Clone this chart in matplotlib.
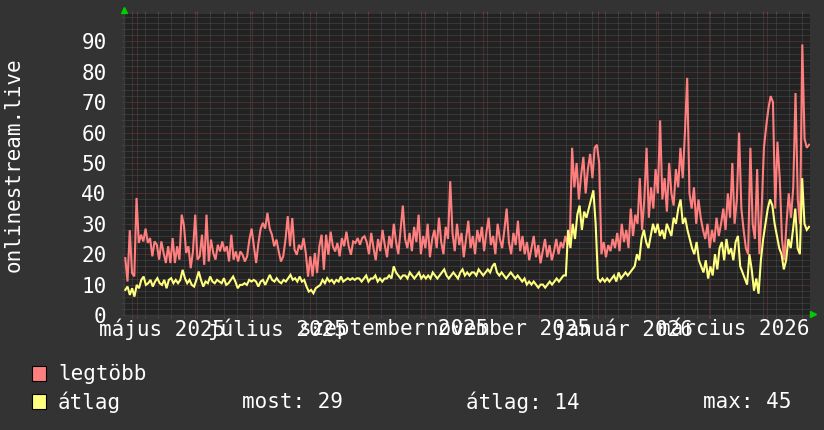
import numpy as np
import pandas as pd
import matplotlib
matplotlib.use('Agg')
import matplotlib.pyplot as plt
import matplotlib.dates as mdates
from matplotlib.patches import Rectangle
from matplotlib.ticker import MultipleLocator

# napi adatok (leolvasva), egyenletes lépéssel a teljes időszakra
legtobb = [18.7, 11.0, 27.9, 13.8, 12.7, 38.5, 23.7, 26.4, 24.2, 28.4,
           23.7, 25.3, 19.3, 24.2, 23.1, 18.2, 24.2, 20.4, 17.1, 22.6,
           17.1, 25.3, 17.1, 22.6, 18.2, 33.0, 29.5, 20.4, 22.6, 15.4,
           20.9, 33.0, 18.2, 19.3, 26.4, 16.5, 33.0, 17.6, 24.8, 20.4,
           18.2, 23.1, 20.9, 24.2, 20.9, 22.6, 17.6, 26.4, 18.2, 20.9,
           17.6, 20.9, 19.8, 17.6, 19.3, 24.8, 28.4, 22.6, 17.1, 23.7,
           28.4, 30.3, 28.4, 33.6, 28.4, 26.4, 22.6, 24.8, 20.9, 17.6,
           19.3, 24.8, 32.5, 22.6, 31.9, 21.5, 19.8, 23.1, 21.5, 25.3,
           20.4, 12.6, 19.3, 12.7, 20.4, 13.8, 22.6, 26.4, 14.9, 26.4,
           19.8, 27.4, 22.6, 20.9, 23.7, 19.3, 25.3, 22.6, 27.4, 22.6,
           19.8, 24.2, 23.7, 25.3, 23.1, 25.3, 25.9,
           24, 20, 27, 22, 18, 25, 21, 28, 23, 19,
           26, 22, 30, 24, 20, 28, 36, 25, 22, 27,
           21, 29, 24, 33, 20, 26, 22, 30, 19, 25,
           28, 22, 32, 24, 20, 29, 25, 44, 27, 21,
           30, 23, 27, 19, 25, 31, 22, 26, 20, 28,
           24, 29, 21, 27, 32, 23, 26, 20, 30, 25,
           22, 28, 35, 24, 20, 27, 23, 31, 21, 26,
           20, 24, 18, 22, 26, 19, 23, 17, 21, 25,
           19, 23, 18, 21, 25, 20, 24, 22, 26, 23,
           25, 55, 42, 50, 38, 46, 52, 40, 48, 53,
           45, 55, 56, 50, 20, 24, 19, 23, 21, 25,
           22, 27, 21, 30, 24, 28, 22, 35, 26, 33,
           30, 45, 28, 38, 55, 32, 42, 35, 48, 40,
           64, 38, 45, 34, 50, 40, 36, 48, 42, 55,
           45, 60, 78, 40, 35, 42, 30, 38, 32, 28,
           25, 30, 22, 28, 24, 32, 26, 30, 35, 28,
           40, 32, 50, 30, 38, 60, 35, 28, 22, 20,
           55, 30, 25, 48, 20, 35, 55, 62, 68, 72,
           70, 35, 57, 45, 25, 18, 30, 40, 32, 42,
           73, 38, 30, 89, 58, 55, 56]

atlag = [8.25, 9.35, 6.6, 8.8, 6.05, 9.9, 8.8, 11.55, 12.65, 9.9,
         10.45, 11.55, 9.35, 11.0, 12.1, 10.45, 9.9, 11.55, 8.8, 11.55,
         12.1, 10.45, 11.55, 10.45, 11.55, 14.85, 12.1, 10.45, 11.55, 9.9,
         9.35, 11.55, 14.3, 11.55, 9.35, 11.0, 10.45, 12.65, 11.0, 10.45,
         11.55, 11.0, 10.45, 12.1, 9.9, 10.45, 11.55, 12.65, 11.0, 8.8,
         9.9, 9.9, 10.45, 9.9, 11.55, 11.0, 11.55, 11.0, 9.35, 11.0,
         11.55, 9.9, 11.55, 13.2, 11.55, 11.0, 12.1, 11.0, 10.45, 11.55,
         11.0, 12.1, 13.2, 11.55, 12.1, 11.0, 12.65, 11.0, 11.55, 9.35,
         7.7, 8.25, 7.15, 8.8, 9.35, 9.9, 11.55, 10.45, 12.1, 11.0,
         11.55, 10.45, 11.55, 11.0, 12.65, 11.0, 11.55, 12.1, 11.55, 12.1,
         11.55, 12.1,
         12, 11, 12, 13, 11, 12, 12, 13, 11, 12,
         11, 12, 12, 13, 12, 16, 14, 13, 12, 13,
         13, 12, 14, 13, 12, 13, 14, 12, 13, 12,
         13, 12, 14, 13, 12, 13, 14, 15, 13, 12,
         13, 14, 13, 12, 14, 15, 13, 14, 13, 14,
         14, 13, 15, 14, 13, 14, 15, 14, 16, 17,
         14, 13, 14, 13, 12, 13, 14, 13, 12, 13,
         12, 11, 12, 10, 11, 10, 11, 10, 9, 10,
         10, 9, 10, 11, 10, 11, 12, 11, 12, 13,
         13, 28, 22, 30, 25, 33, 36, 28, 34, 32,
         35, 38, 41, 30, 12, 11, 12, 11, 12, 11,
         12, 13, 11, 14, 12, 13, 14, 13, 14, 15,
         16, 20, 18, 25, 28, 24, 22, 26, 30, 27,
         30, 26, 28, 25, 30, 28, 26, 32, 30, 35,
         38, 30, 32, 28, 25, 22, 20, 24, 18, 16,
         14, 18, 12, 16, 13, 20, 15, 22, 24, 18,
         25, 20, 22, 18, 24, 26, 16, 14, 12, 10,
         20, 15, 8, 12, 7, 18, 25, 30, 35, 38,
         36, 30, 26, 22, 20, 15, 18, 25, 22, 28,
         35, 22, 20, 45, 30, 28, 29]

month_labels = ['május 2025', 'július 2025', 'szeptember 2025',
                'november 2025', 'január 2026', 'március 2026']
label_months = ['2025-05-01', '2025-07-01', '2025-09-01',
                '2025-11-01', '2026-01-01', '2026-03-01']
series_names = ['legtöbb', 'átlag']
stats_text = ['most: 29', 'átlag: 14', 'max: 45']

t0 = pd.Timestamp('2025-04-24 00:00')
t1 = pd.Timestamp('2026-04-24 00:00')
first = pd.Timestamp('2025-04-24 16:00')
last = pd.Timestamp('2026-04-23 12:00')

BG = '#333333'
CANVAS = '#222222'
MINOR = '#4c4c4c'
MAJOR = '#763838'
RED = '#ff7f7f'
YELLOW = '#ffff7f'
FONT = 'DejaVu Sans Mono'
FS = 15

W, H = 824, 430
fig = plt.figure(figsize=(W / 100, H / 100), dpi=100, facecolor=BG)
ax = fig.add_axes([124 / W, 1 - 315 / H, 686 / W, 301 / H], facecolor=CANVAS)

xr = np.linspace(mdates.date2num(first), mdates.date2num(last), len(legtobb))
xa = np.linspace(mdates.date2num(first), mdates.date2num(last), len(atlag))
ax.plot(xr, legtobb, color=RED, lw=1.5, zorder=3, solid_joinstyle='miter')
ax.plot(xa, atlag, color=YELLOW, lw=1.5, zorder=4, solid_joinstyle='miter')

ax.set_xlim(mdates.date2num(t0), mdates.date2num(t1))
ax.set_ylim(0, 99)

ax.xaxis.set_major_locator(mdates.MonthLocator())
ax.xaxis.set_minor_locator(mdates.WeekdayLocator(byweekday=mdates.MO))
ax.yaxis.set_major_locator(MultipleLocator(10))
ax.yaxis.set_minor_locator(MultipleLocator(2))
ax.xaxis.set_major_formatter(plt.NullFormatter())

dot = (0, (1, 1))
ax.grid(which='minor', color=MINOR, lw=0.72, linestyle=dot, zorder=1)
ax.grid(which='major', color=MAJOR, lw=0.72, linestyle=dot, zorder=2)
ax.set_axisbelow(True)

ax.tick_params(axis='x', which='both', top=True, bottom=True, direction='out',
               length=2.2, width=0.72, labelbottom=False)
ax.tick_params(axis='x', which='major', color=MAJOR)
ax.tick_params(axis='x', which='minor', color=MINOR)
ax.tick_params(axis='y', which='major', left=True, direction='out', length=1.5,
               width=0.72, color=MAJOR, pad=11, labelsize=FS, labelcolor='white')
ax.tick_params(axis='y', which='minor', left=True, direction='out', length=1.5,
               width=0.72, color=MINOR)
for lab in ax.get_yticklabels():
    lab.set_fontfamily(FONT)

for s in ['top', 'right']:
    ax.spines[s].set_visible(False)
for s in ['left', 'bottom']:
    ax.spines[s].set_color('#3a3a3a')
    ax.spines[s].set_linewidth(1.0)

# hónapcímkék a hónap közepe táján
for m, lab in zip(label_months, month_labels):
    xm = mdates.date2num(pd.Timestamp(m) + pd.Timedelta(days=13.5))
    ax.text(xm, -0.047, lab, transform=ax.get_xaxis_transform(), ha='center',
            va='center', color='white', fontsize=FS, family=FONT, clip_on=False)

# nyilak
ax.plot([0], [1.013], marker='^', color='#00cc00', ms=4, transform=ax.transAxes,
        clip_on=False, zorder=6)
ax.plot([1.0045], [0.002], marker='>', color='#00cc00', ms=4, transform=ax.transAxes,
        clip_on=False, zorder=6)

fig.text(14 / W, 1 - 165 / H, 'onlinestream.live', rotation=90, ha='center',
         va='center', color='white', fontsize=FS, family=FONT)

# jelmagyarázat
for i, (name, col) in enumerate(zip(series_names, [RED, YELLOW])):
    ytop = 366 + i * 28
    fig.add_artist(Rectangle((32 / W, 1 - (ytop + 15) / H), 14 / W, 15 / H,
                             transform=fig.transFigure, facecolor=col,
                             edgecolor='black', lw=0.8))
    fig.text(58 / W, 1 - (ytop + 8) / H, name, ha='left', va='center',
             color='white', fontsize=FS, family=FONT)
for xs, txt in zip([242, 466, 703], stats_text):
    fig.text(xs / W, 1 - 402 / H, txt, ha='left', va='center', color='white',
             fontsize=FS, family=FONT)

fig.savefig('out.png', dpi=100, facecolor=BG)
